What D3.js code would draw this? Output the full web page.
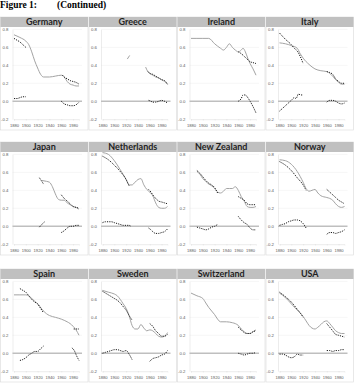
<!DOCTYPE html>
<html>
<head>
<meta charset="utf-8">
<script src="https://cdn.jsdelivr.net/npm/d3@7"></script>
<style>
  html, body { margin: 0; padding: 0; background: #fff; }
  svg { display: block; }
</style>
</head>
<body>
<div id="chart"></div>
<script>
"use strict";

// panel titles, in reading order
const countries = ["Germany", "Greece", "Ireland", "Italy", "Japan", "Netherlands",
  "New Zealand", "Norway", "Spain", "Sweden", "Switzerland", "USA"];

const yTicks = [-0.2, 0, 0.2, 0.4, 0.6, 0.8];
const xTicks = [1880, 1900, 1920, 1940, 1960, 1980];

// [year, value]; null = gap in the series
const germanyLine = [[1880,.74],[1890,.71],[1900,.67],[1905,.63],[1910,.55],[1915,.45],[1920,.37],[1925,.30],[1930,.27],[1940,.27],[1950,.28],[1960,.29],[1965,.27],[1970,.22],[1975,.19],[1980,.18],[1985,.17],[1990,.17]];
const germanyDots = [[1880,.70],[1885,.68],[1890,.66],[1895,.63],[1900,.60],null,[1962,.29],[1965,.27],[1970,.25],[1975,.23],[1980,.22],[1985,.21],[1990,.19]];
const germanyDiff = [[1880,.03],[1885,.03],[1890,.04],[1895,.05],[1900,.05],null,[1960,0],[1962,-.01],[1965,-.03],[1970,-.04],[1975,-.05],[1980,-.05],[1985,-.04],[1990,-.01]];

const greeceLine = [[1922,.47],[1926,.51],null,[1953,.38],[1955,.35],[1960,.31],[1965,.29],[1970,.27],[1975,.26],[1980,.24],[1985,.22],[1990,.19]];
const greeceDots = [[1957,.33],[1960,.31],[1965,.30],[1970,.28],[1975,.26],[1980,.24],[1985,.23],[1990,.19]];
const greeceDiff = [[1958,.01],[1962,0],[1965,-.01],[1970,-.01],[1975,0],[1980,.01],[1985,0],[1990,-.02]];

const irelandLine = [[1880,.70],[1890,.70],[1900,.70],[1910,.70],[1920,.64],[1930,.59],[1935,.57],[1940,.60],[1945,.64],[1950,.60],[1955,.57],[1960,.55],[1965,.57],[1968,.59],[1972,.55],[1976,.48],[1980,.42],[1985,.36],[1990,.29]];
const irelandDots = [[1960,.55],[1965,.53],[1970,.50],[1975,.47],[1980,.44],[1985,.43],[1990,.42]];
const irelandDiff = [[1960,0],[1965,.03],[1968,.07],[1972,.07],[1975,.05],[1980,0],[1985,-.06],[1990,-.13]];

const italyLine = [[1880,.65],[1890,.64],[1900,.62],[1910,.59],[1915,.53],[1920,.48],[1930,.41],[1940,.36],[1950,.34],[1960,.33],[1965,.31],[1970,.28],[1975,.24],[1980,.21],[1985,.19],[1990,.19]];
const italyDots = [[1880,.76],[1890,.69],[1900,.63],[1905,.59],[1910,.56],[1915,.50],[1920,.42],null,[1960,.33],[1965,.32],[1970,.30],[1975,.25],[1980,.22],[1985,.20],[1990,.20]];
const italyDiff = [[1880,-.11],[1885,-.08],[1890,-.05],[1895,-.02],[1900,.01],[1905,.04],[1908,.03],[1912,.08],[1916,.07],[1920,.07],null,[1960,-.01],[1965,.01],[1970,.01],[1975,0],[1980,-.02],[1985,-.03],[1990,-.02]];

const japanLine = [[1927,.51],[1935,.50],[1940,.49],[1945,.44],[1950,.36],[1955,.30],[1960,.29],[1965,.29],[1970,.26],[1975,.24],[1980,.22],[1985,.21],[1990,.19]];
const japanDots = [[1923,.54],[1927,.50],[1930,.47],null,[1960,.35],[1965,.31],[1970,.28],[1975,.25],[1980,.22],[1985,.21],[1990,.20]];
const japanDiff = [[1923,-.01],[1927,.02],[1932,.05],null,[1960,-.07],[1965,-.05],[1970,-.02],[1975,0],[1980,0],[1985,.01],[1990,.01]];

const netherlandsLine = [[1880,.82],[1890,.80],[1900,.73],[1910,.63],[1920,.52],[1925,.46],[1930,.46],[1935,.49],[1940,.52],[1945,.53],[1950,.46],[1955,.41],[1960,.38],[1965,.34],[1970,.26],[1975,.21],[1980,.20],[1985,.20],[1990,.22]];
const netherlandsDots = [[1880,.78],[1890,.74],[1900,.68],[1910,.61],[1920,.52],[1925,.45],null,[1958,.41],[1962,.38],[1965,.35],[1970,.31],[1975,.28],[1980,.27],[1985,.26],[1990,.25]];
const netherlandsDiff = [[1880,.04],[1885,.05],[1890,.05],[1895,.05],[1900,.04],[1905,.03],[1910,.02],[1915,.01],[1920,.01],[1925,.01],[1928,0],null,[1958,-.02],[1962,-.04],[1965,-.06],[1970,-.08],[1975,-.08],[1980,-.07],[1985,-.06],[1990,-.03]];

const newZealandLine = [[1890,.61],[1895,.58],[1900,.53],[1905,.50],[1910,.47],[1915,.45],[1920,.42],[1925,.38],[1930,.37],[1935,.39],[1940,.42],[1945,.42],[1950,.42],[1955,.44],[1960,.40],[1965,.33],[1970,.28],[1975,.22],[1980,.21],[1985,.21],[1990,.22]];
const newZealandDots = [[1890,.62],[1895,.59],[1900,.55],[1905,.51],[1910,.48],[1915,.46],[1920,.43],[1925,.37],null,[1960,.33],[1965,.31],[1970,.29],[1975,.25],[1980,.24],[1985,.24],[1990,.24]];
const newZealandDiff = [[1890,-.01],[1895,-.02],[1900,-.03],[1905,-.04],[1910,-.03],[1915,-.01],[1920,0],[1925,.02],null,[1960,.11],[1965,.07],[1970,.04],[1975,.02],[1980,-.02],[1985,-.04],[1990,-.04]];

const norwayLine = [[1880,.74],[1890,.73],[1900,.69],[1910,.61],[1920,.49],[1925,.42],[1930,.39],[1935,.40],[1940,.41],[1945,.37],[1950,.34],[1960,.32],[1965,.31],[1970,.29],[1975,.25],[1980,.22],[1985,.21],[1990,.22]];
const norwayDots = [[1880,.72],[1890,.68],[1900,.62],[1910,.54],[1920,.46],[1925,.40],null,[1960,.41],[1965,.38],[1970,.35],[1975,.32],[1980,.29],[1985,.27],[1990,.25]];
const norwayDiff = [[1880,.01],[1885,.02],[1890,.03],[1895,.05],[1900,.06],[1905,.07],[1910,.07],[1915,.06],[1920,.03],[1925,-.02],null,[1960,-.09],[1965,-.07],[1970,-.07],[1975,-.08],[1980,-.07],[1985,-.06],[1990,-.04]];

const spainLine = [[1880,.65],[1890,.65],[1900,.65],[1905,.64],[1910,.61],[1915,.58],[1920,.55],[1925,.51],[1930,.47],[1935,.44],[1940,.42],[1950,.40],[1960,.38],[1970,.35],[1975,.33],[1980,.30],[1985,.26],[1990,.20]];
const spainDots = [[1890,.72],[1895,.70],[1900,.68],[1905,.64],[1910,.60],[1915,.57],[1920,.55],[1925,.50],[1930,.45],null,[1981,.27],[1985,.27],[1990,.27]];
const spainDiff = [[1890,-.08],[1895,-.07],[1900,-.05],[1905,-.02],[1910,0],[1915,.02],[1920,.02],[1925,.05],[1930,.08],null,[1978,.06],[1982,.03],[1986,-.03],[1990,-.08]];

const swedenLine = [[1880,.70],[1890,.68],[1900,.66],[1905,.64],[1910,.60],[1915,.55],[1920,.50],[1925,.42],[1930,.31],[1935,.27],[1940,.27],[1945,.32],[1950,.28],[1955,.25],[1960,.26],[1965,.25],[1970,.22],[1975,.19],[1980,.18],[1985,.19],[1990,.23]];
const swedenDots = [[1880,.69],[1885,.67],[1890,.65],[1895,.63],[1900,.61],[1905,.59],[1910,.56],[1915,.52],[1920,.48],[1925,.42],[1930,.37],null,[1960,.33],[1965,.30],[1970,.25],[1975,.22],[1980,.19],[1985,.19],[1990,.21]];
const swedenDiff = [[1880,0],[1885,.01],[1890,.02],[1895,.03],[1900,.04],[1905,.04],[1910,.03],[1915,.02],[1920,.03],[1925,-.01],[1930,-.07],null,[1960,-.09],[1965,-.06],[1970,-.05],[1975,-.04],[1980,-.02],[1985,-.01],[1990,.03]];

const switzerlandLine = [[1880,.67],[1890,.64],[1900,.61],[1905,.56],[1910,.51],[1920,.43],[1925,.38],[1930,.35],[1940,.35],[1950,.34],[1955,.33],[1960,.31],[1965,.27],[1970,.24],[1975,.22],[1980,.22],[1985,.24],[1990,.26]];
const switzerlandDots = [[1960,.29],[1965,.26],[1970,.23],[1975,.22],[1980,.22],[1985,.24],[1990,.25]];
const switzerlandDiff = [[1960,0],[1965,-.01],[1970,-.02],[1975,-.01],[1980,0],[1985,0],[1990,.01]];

const usaLine = [[1880,.67],[1890,.62],[1900,.55],[1910,.48],[1920,.41],[1925,.36],[1930,.31],[1935,.28],[1940,.27],[1945,.29],[1950,.32],[1955,.35],[1960,.36],[1965,.33],[1970,.29],[1975,.25],[1980,.23],[1985,.22],[1990,.22]];
const usaDots = [[1880,.68],[1890,.63],[1900,.57],[1910,.49],[1915,.45],[1920,.40],null,[1960,.33],[1965,.29],[1970,.25],[1975,.21],[1980,.20],[1985,.19],[1990,.18]];
const usaDiff = [[1880,-.01],[1885,-.01],[1890,-.02],[1895,-.04],[1900,-.05],[1905,-.04],[1910,-.01],[1915,-.02],[1920,-.02],null,[1960,.03],[1965,.03],[1970,.02],[1975,.03],[1980,.03],[1985,.04],[1990,.04]];

const lineSeries = [germanyLine, greeceLine, irelandLine, italyLine, japanLine, netherlandsLine,
  newZealandLine, norwayLine, spainLine, swedenLine, switzerlandLine, usaLine];
const dotSeries = [germanyDots, greeceDots, irelandDots, italyDots, japanDots, netherlandsDots,
  newZealandDots, norwayDots, spainDots, swedenDots, switzerlandDots, usaDots];
const diffSeries = [germanyDiff, greeceDiff, irelandDiff, italyDiff, japanDiff, netherlandsDiff,
  newZealandDiff, norwayDiff, spainDiff, swedenDiff, switzerlandDiff, usaDiff];

const svgWidth = 354;
const svgHeight = 389;
const colWidth = 88.5;
const rowTops = [17, 142, 269];

const svg = d3.select("#chart")
  .append("svg")
  .attr("width", svgWidth)
  .attr("height", svgHeight);

// figure caption
svg.append("text")
  .attr("x", 0)
  .attr("y", 8)
  .attr("font-family", "Liberation Serif, Times New Roman, serif")
  .attr("font-weight", "bold")
  .attr("font-size", 9.5)
  .text("Figure 1:");
svg.append("text")
  .attr("x", 57)
  .attr("y", 8)
  .attr("font-family", "Liberation Serif, Times New Roman, serif")
  .attr("font-weight", "bold")
  .attr("font-size", 9.5)
  .text("(Continued)");

countries.forEach((name, i) => {
  const col = i % 4;
  const row = Math.floor(i / 4);
  const x0 = col * colWidth;
  const y0 = rowTops[row];

  const x = d3.scaleLinear().domain([1880, 1990]).range([x0 + 14, x0 + 79]);
  const y = d3.scaleLinear().domain([-0.2, 0.8]).range([y0 + 102.2, y0 + 12.4]);

  const g = svg.append("g");

  // panel frame and header
  g.append("rect")
    .attr("x", x0 + 0.5).attr("y", y0)
    .attr("width", colWidth - 1).attr("height", 113)
    .attr("fill", "#fff").attr("stroke", "#d9d9d9").attr("stroke-width", 0.6);
  g.append("rect")
    .attr("x", x0 + 0.5).attr("y", y0)
    .attr("width", colWidth - 1).attr("height", 10)
    .attr("fill", "#c0c0c0");
  g.append("text")
    .attr("x", x0 + colWidth / 2).attr("y", y0 + 8.3)
    .attr("text-anchor", "middle")
    .attr("font-family", "Lato, Open Sans, sans-serif")
    .attr("font-weight", "bold")
    .attr("font-size", 9)
    .attr("fill", "#1f1f1f")
    .text(name);

  // grid lines
  g.selectAll(".grid")
    .data(yTicks.filter(d => d !== 0 && d !== -0.2))
    .enter().append("line")
    .attr("x1", x0 + 12.5).attr("x2", x0 + 82)
    .attr("y1", d => y(d)).attr("y2", d => y(d))
    .attr("stroke", "#ededed").attr("stroke-width", 0.5);

  // y axis
  const yAxis = g.append("g")
    .attr("transform", "translate(" + (x0 + 12.5) + ",0)")
    .call(d3.axisLeft(y).tickValues(yTicks).tickSize(0).tickPadding(4).tickFormat(d => d.toFixed(1)));
  yAxis.select(".domain").attr("stroke", "#d9d9d9").attr("stroke-width", 0.5);
  yAxis.selectAll("text")
    .attr("font-family", "Liberation Sans, Arial, sans-serif")
    .attr("font-size", 4.3)
    .attr("fill", "#595959");

  // x axis at the bottom
  const xAxis = g.append("g")
    .attr("transform", "translate(0," + y(-0.2) + ")")
    .call(d3.axisBottom(x).tickValues(xTicks).tickSize(1.2).tickPadding(3.5).tickFormat(d3.format("d")));
  xAxis.select(".domain").attr("stroke", "#d9d9d9").attr("stroke-width", 0.5);
  xAxis.selectAll(".tick line").attr("stroke", "#d9d9d9").attr("stroke-width", 0.5);
  xAxis.selectAll("text")
    .attr("font-family", "Liberation Sans, Arial, sans-serif")
    .attr("font-size", 4.1)
    .attr("fill", "#595959");

  // zero line
  g.append("line")
    .attr("x1", x0 + 12.5).attr("x2", x0 + 82)
    .attr("y1", y(0)).attr("y2", y(0))
    .attr("stroke", "#bfbfbf").attr("stroke-width", 1.4);

  const line = d3.line()
    .defined(d => d)
    .x(d => x(d[0]))
    .y(d => y(d[1]))
    .curve(d3.curveMonotoneX);

  g.append("path")
    .attr("d", line(lineSeries[i]))
    .attr("fill", "none")
    .attr("stroke", "#a3a3a3")
    .attr("stroke-width", 1);

  g.append("path")
    .attr("d", line(dotSeries[i]))
    .attr("fill", "none")
    .attr("stroke", "#1a1a1a")
    .attr("stroke-width", 1)
    .attr("stroke-dasharray", "1.2,1.1");

  g.append("path")
    .attr("d", line(diffSeries[i]))
    .attr("fill", "none")
    .attr("stroke", "#1a1a1a")
    .attr("stroke-width", 1)
    .attr("stroke-dasharray", "1.2,1.1");
});
</script>
</body>
</html>
